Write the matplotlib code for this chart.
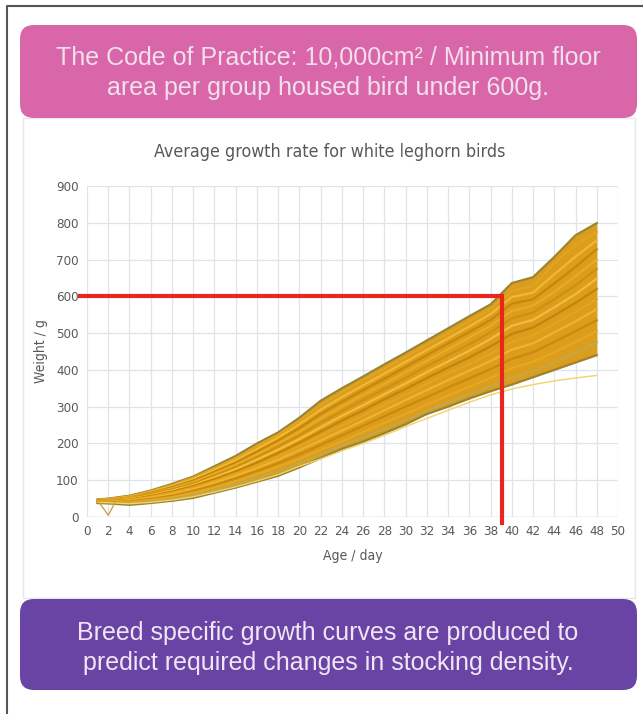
import matplotlib.pyplot as plt
from matplotlib.patches import FancyBboxPatch, Rectangle

days = [1, 2, 4, 6, 8, 10, 12, 14, 16, 18, 20, 22, 24, 26, 28, 30, 32, 34, 36, 38, 40, 42, 44, 46, 48]

w01 = [48, 50, 58, 72, 90, 110, 138, 166, 200, 230, 270, 316, 350, 382, 415, 447, 480, 513, 546, 578, 636, 652, 707, 766, 799]
w02 = [47, 49, 56, 70, 87, 107, 133, 160, 193, 224, 262, 305, 340, 372, 404, 436, 468, 500, 532, 566, 615, 628, 690, 740, 775]
w03 = [46, 48, 55, 68, 84, 103, 128, 154, 185, 216, 252, 292, 326, 358, 390, 422, 454, 486, 518, 552, 598, 610, 660, 708, 752]
w04 = [46, 47, 53, 66, 81, 99, 123, 148, 178, 208, 242, 280, 313, 345, 376, 408, 440, 472, 503, 536, 580, 592, 635, 680, 728]
w05 = [45, 46, 52, 64, 78, 95, 118, 142, 170, 200, 232, 268, 300, 332, 362, 394, 425, 456, 488, 520, 560, 575, 612, 655, 700]
w06 = [44, 45, 50, 62, 75, 91, 113, 136, 163, 192, 222, 256, 288, 318, 348, 378, 410, 440, 470, 502, 540, 556, 592, 630, 675]
w07 = [43, 44, 49, 59, 72, 87, 108, 130, 156, 183, 212, 244, 275, 304, 334, 363, 394, 423, 452, 484, 520, 536, 570, 606, 648]
w08 = [43, 43, 47, 57, 69, 84, 103, 124, 148, 174, 202, 232, 262, 290, 320, 348, 378, 406, 434, 464, 498, 515, 548, 582, 620]
w09 = [42, 42, 46, 55, 66, 80, 98, 118, 140, 165, 192, 220, 248, 276, 305, 332, 362, 390, 416, 444, 476, 494, 525, 558, 592]
w10 = [41, 41, 44, 52, 62, 76, 93, 112, 133, 156, 182, 208, 235, 262, 290, 318, 345, 372, 398, 424, 455, 472, 502, 532, 565]
w11 = [40, 40, 42, 49, 58, 71, 87, 105, 125, 146, 170, 196, 222, 248, 274, 300, 326, 352, 377, 402, 430, 448, 476, 505, 535]
w12 = [39, 39, 40, 46, 54, 66, 80, 97, 116, 136, 158, 182, 206, 231, 256, 280, 305, 330, 354, 378, 405, 422, 448, 476, 505]
w13 = [38, 38, 37, 42, 49, 59, 73, 89, 106, 124, 146, 170, 194, 217, 240, 264, 288, 312, 334, 356, 378, 396, 420, 446, 475]
w14 = [38, 37, 33, 38, 44, 52, 66, 80, 96, 112, 135, 160, 185, 205, 228, 252, 280, 300, 322, 342, 360, 380, 400, 420, 440]
w_faint = [40, 39, 36, 40, 46, 55, 68, 82, 98, 115, 138, 158, 180, 200, 222, 246, 268, 290, 312, 332, 348, 360, 370, 378, 385]

# one bird with a bad reading on day 2
dip_days = [1, 2, 2.7]
dip_w = [45, 5, 42]

limit_weight = 600
limit_day = 39.1

curves = [w01, w02, w03, w04, w05, w06, w07, w08, w09, w10, w11, w12, w13, w14]
colors = ["#9a8430", "#e0a422", "#f0b834", "#c6870c", "#e8ab26", "#cf8f10", "#f2bc3c",
          "#c4840a", "#e4a41e", "#eeb430", "#cb8a0e", "#e6a822", "#c2a848", "#9a8430"]

narrow = ["DejaVu Sans"]
grey = "#595959"

fig = plt.figure(figsize=(6.43, 7.14), dpi=100)

# background layer in pixel coords
bg = fig.add_axes([0, 0, 1, 1], zorder=0)
bg.set_xlim(0, 643)
bg.set_ylim(714, 0)
bg.axis("off")
bg.plot([7, 7, 643], [714, 6, 6], color="#555555", lw=1.5)
bg.add_patch(Rectangle((23, 118), 612, 480, fill=False, ec="#e4e8ec", lw=1))
bg.add_patch(FancyBboxPatch((20, 25), 617, 93, boxstyle="round,pad=0,rounding_size=14",
                            fc="#d966a8", ec="none"))
bg.add_patch(FancyBboxPatch((20, 599), 617, 91, boxstyle="round,pad=0,rounding_size=14",
                            fc="#6a44a4", ec="none"))
bg.text(328, 73, "The Code of Practice: 10,000cm² / Minimum floor\narea per group housed bird under 600g.",
        ha="center", va="center", fontsize=18, color="#f1e0ec", family="Liberation Sans",
        linespacing=1.32)
bg.text(328, 648, "Breed specific growth curves are produced to\npredict required changes in stocking density.",
        ha="center", va="center", fontsize=18, color="#eee6f4", family="Liberation Sans",
        linespacing=1.32)
bg.text(330, 152, "Average growth rate for white leghorn birds", ha="center", va="center",
        fontsize=12.8, color=grey, family=narrow, stretch="condensed")

ax = fig.add_axes([0.1353, 0.2759, 0.8258, 0.4636], zorder=1)
ax.set_xlim(0, 50)
ax.set_ylim(0, 900)
ax.set_xticks(range(0, 51, 2))
ax.set_yticks(range(0, 901, 100))
ax.grid(True, color="#dfe4ea", lw=0.9)
ax.set_axisbelow(True)
for s in ax.spines.values():
    s.set_visible(False)
ax.tick_params(length=0, labelsize=9.5, labelcolor=grey, pad=6)
for lab in ax.get_xticklabels() + ax.get_yticklabels():
    lab.set_family(narrow)
    lab.set_stretch("condensed")
ax.axhline(0, color="#c8ced6", lw=1)

ax.fill_between(days, w14, w01, color="#dc9c1c", lw=0, zorder=2)
for w, c in zip(curves, colors):
    ax.plot(days, w, color=c, lw=1.6, zorder=3)
ax.plot(days, w_faint, color="#f2d36a", lw=1.0, zorder=3)
ax.plot(dip_days, dip_w, color="#c9a44a", lw=1.0, zorder=3)

ax.plot([-0.7, limit_day, limit_day], [limit_weight, limit_weight, -15],
        color="#e8261c", lw=3, clip_on=False, zorder=5, solid_joinstyle="miter")

ax.set_xlabel("Age / day", fontsize=10, color=grey, family=narrow, stretch="condensed", labelpad=8)
ax.set_ylabel("Weight / g", fontsize=10, color=grey, family=narrow, stretch="condensed", labelpad=6)

fig.savefig("out.png", dpi=100)
